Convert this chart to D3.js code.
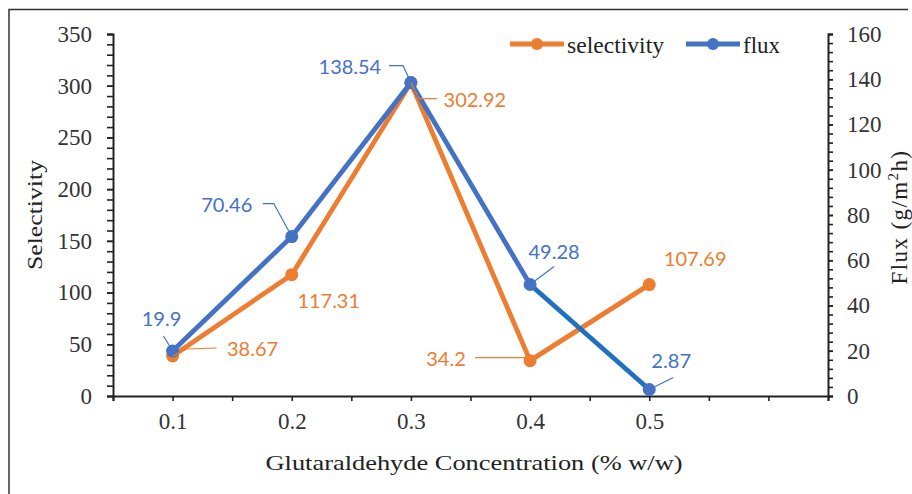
<!DOCTYPE html>
<html>
<head>
<meta charset="utf-8">
<script src="https://cdn.jsdelivr.net/npm/d3@7"></script>
<style>
  html, body { margin: 0; padding: 0; background: #fff; }
  svg { display: block; }
</style>
</head>
<body>
<svg id="chart" width="912" height="494"></svg>
<script>
// Glutaraldehyde concentration (% w/w)
const concentration = [0.1, 0.2, 0.3, 0.4, 0.5];
// Selectivity (left axis)
const selectivity = [38.67, 117.31, 302.92, 34.2, 107.69];
// Flux, g/m²h (right axis)
const flux = [19.9, 70.46, 138.54, 49.28, 2.87];
// Axis ticks
const xTicks = [0.05, 0.1, 0.15, 0.2, 0.25, 0.3, 0.35, 0.4, 0.45, 0.5, 0.55, 0.6, 0.65];
const xTickLabels = [0.1, 0.2, 0.3, 0.4, 0.5];
const leftTicks = [0, 50, 100, 150, 200, 250, 300, 350];
const rightTicks = [0, 20, 40, 60, 80, 100, 120, 140, 160];

const ORANGE = "#ED7D31";
const BLUE = "#4472C4";
const BLUE2 = "#1F70C1";
const SERIF = "'Liberation Serif', 'Times New Roman', serif";
const SANS = "Lato, 'Open Sans', sans-serif";

const svg = d3.select("#chart");

// frame
svg.append("path")
  .attr("d", "M9,494V9.5H908")
  .attr("fill", "none").attr("stroke", "#333").attr("stroke-width", 1.5);

const plot = { left: 113, right: 828, top: 34, bottom: 396 };

const x = d3.scaleLinear().domain([0.05, 0.65]).range([plot.left, plot.right]);
const yL = d3.scaleLinear().domain([0, 350]).range([plot.bottom, plot.top]);
const yR = d3.scaleLinear().domain([0, 160]).range([plot.bottom, plot.top]);

function styleAxis(g) {
  g.select(".domain").attr("stroke", "#222").attr("stroke-width", 2);
  g.selectAll(".tick line").attr("stroke", "#222").attr("stroke-width", 1.6);
  g.selectAll(".tick text").attr("fill", "#333")
    .style("font-family", SERIF).style("font-size", "23px");
}

// left axis: minor ticks every 10, labels every 50
svg.append("g").attr("transform", `translate(${plot.left},0)`)
  .call(d3.axisLeft(yL).tickValues(d3.range(0, 351, 10)).tickSize(6).tickFormat(""))
  .call(styleAxis);
svg.append("g").attr("transform", `translate(${plot.left},0)`)
  .call(d3.axisLeft(yL).tickValues(leftTicks).tickSize(6).tickPadding(15).tickFormat(d3.format("d")))
  .call(styleAxis)
  .call(g => g.select(".domain").remove());

// right axis: minor ticks every 4, labels every 20
svg.append("g").attr("transform", `translate(${plot.right},0)`)
  .call(d3.axisRight(yR).tickValues(d3.range(0, 161, 4)).tickSize(5).tickFormat(""))
  .call(styleAxis);
svg.append("g").attr("transform", `translate(${plot.right},0)`)
  .call(d3.axisRight(yR).tickValues(rightTicks).tickSize(5).tickPadding(14).tickFormat(d3.format("d")))
  .call(styleAxis)
  .call(g => g.select(".domain").remove());

// bottom axis
svg.append("g").attr("transform", `translate(0,${plot.bottom})`)
  .call(d3.axisBottom(x).tickValues(xTicks).tickSize(5).tickPadding(12)
    .tickFormat(d => xTickLabels.some(v => Math.abs(v - d) < 1e-9) ? d3.format(".1f")(d) : ""))
  .call(styleAxis);

// axis titles
svg.append("text")
  .attr("x", 474).attr("y", 470).attr("text-anchor", "middle")
  .attr("textLength", 417).attr("lengthAdjust", "spacingAndGlyphs")
  .style("font-family", SERIF).style("font-size", "22px").attr("fill", "#222")
  .text("Glutaraldehyde  Concentration (% w/w)");

svg.append("text")
  .attr("transform", "translate(42,215) rotate(-90)")
  .attr("text-anchor", "middle")
  .attr("textLength", 110).attr("lengthAdjust", "spacingAndGlyphs")
  .style("font-family", SERIF).style("font-size", "22px").attr("fill", "#222")
  .text("Selectivity");

const rTitle = svg.append("text")
  .attr("transform", "translate(907,217) rotate(-90)")
  .attr("text-anchor", "middle")
  .style("font-family", SERIF).style("font-size", "23px").style("letter-spacing", "1.4px")
  .attr("fill", "#222");
rTitle.append("tspan").text("Flux  (g/m");
rTitle.append("tspan").attr("dy", -9).style("font-size", "15px").text("2");
rTitle.append("tspan").attr("dy", 9).text("h)");

// series
const selPts = concentration.map((c, i) => [x(c), yL(selectivity[i])]);
const fluxPts = concentration.map((c, i) => [x(c), yR(flux[i])]);
const line = d3.line();

svg.append("path").attr("d", line(selPts))
  .attr("fill", "none").attr("stroke", ORANGE).attr("stroke-width", 4.8)
  .attr("stroke-linejoin", "round").attr("stroke-linecap", "round");
svg.selectAll(".selDot").data(selPts).enter().append("circle")
  .attr("cx", d => d[0]).attr("cy", d => d[1]).attr("r", 6.5).attr("fill", ORANGE);

svg.append("path").attr("d", line(fluxPts.slice(0, 4)))
  .attr("fill", "none").attr("stroke", BLUE).attr("stroke-width", 4.8)
  .attr("stroke-linejoin", "round").attr("stroke-linecap", "round");
svg.append("path").attr("d", line(fluxPts.slice(3)))
  .attr("fill", "none").attr("stroke", BLUE2).attr("stroke-width", 4.8)
  .attr("stroke-linecap", "round");
svg.selectAll(".fluxDot").data(fluxPts).enter().append("circle")
  .attr("cx", d => d[0]).attr("cy", d => d[1]).attr("r", 6.5).attr("fill", BLUE);

// data labels: offset of label centre from its point, plus an optional leader polyline (relative to point)
const selLabelLayout = [
  { dx: 80, dy: -8, leader: [[0, 0], [14, -7], [44, -8]] },
  { dx: 37, dy: 25, leader: null },
  { dx: 64, dy: 16, leader: [[0, 0], [8, 16], [26, 16]] },
  { dx: -84, dy: -3, leader: [[0, 0], [-1, -3], [-55, -3]] },
  { dx: 46, dy: -27, leader: null }
];
const fluxLabelLayout = [
  { dx: -11, dy: -33, leader: [[0, 0], [-9, -15]] },
  { dx: -65, dy: -33, leader: [[0, 0], [-18, -33], [-29, -33]] },
  { dx: -61, dy: -17, leader: [[0, 0], [-8, -17], [-22, -17]] },
  { dx: 24, dy: -34, leader: [[0, 0], [24, -18]] },
  { dx: 22, dy: -30, leader: [[0, 0], [24, -12]] }
];

// label width from per-character advances (digits vs. decimal point)
const labelWidth = s => [...s].reduce((w, ch) => w + (ch === "." ? 5.6 : 11.4), 0);

function drawLabels(pts, values, layout, color) {
  pts.forEach((p, i) => {
    const L = layout[i];
    if (L.leader) {
      svg.append("path")
        .attr("d", line(L.leader.map(q => [p[0] + q[0], p[1] + q[1]])))
        .attr("fill", "none").attr("stroke", color).attr("stroke-width", 1.2);
    }
    const s = String(values[i]);
    svg.append("text")
      .attr("x", p[0] + L.dx).attr("y", p[1] + L.dy)
      .attr("text-anchor", "middle").attr("dominant-baseline", "central")
      .attr("textLength", labelWidth(s)).attr("lengthAdjust", "spacingAndGlyphs")
      .style("font-family", SANS).style("font-size", "20px").attr("fill", color)
      .text(s);
  });
}
drawLabels(selPts, selectivity, selLabelLayout, ORANGE);
drawLabels(fluxPts, flux, fluxLabelLayout, BLUE);

// legend
const legend = [
  { name: "selectivity", color: ORANGE, x0: 510, w: 97 },
  { name: "flux", color: BLUE, x0: 686, w: 37 }
];
const lg = svg.append("g");
legend.forEach(d => {
  lg.append("line").attr("x1", d.x0).attr("x2", d.x0 + 54).attr("y1", 44).attr("y2", 44)
    .attr("stroke", d.color).attr("stroke-width", 4.8);
  lg.append("circle").attr("cx", d.x0 + 27).attr("cy", 44).attr("r", 6).attr("fill", d.color);
  lg.append("text").attr("x", d.x0 + 57).attr("y", 45).attr("dominant-baseline", "central")
    .attr("textLength", d.w).attr("lengthAdjust", "spacingAndGlyphs")
    .style("font-family", SERIF).style("font-size", "23px").attr("fill", "#222")
    .text(d.name);
});
</script>
</body>
</html>
